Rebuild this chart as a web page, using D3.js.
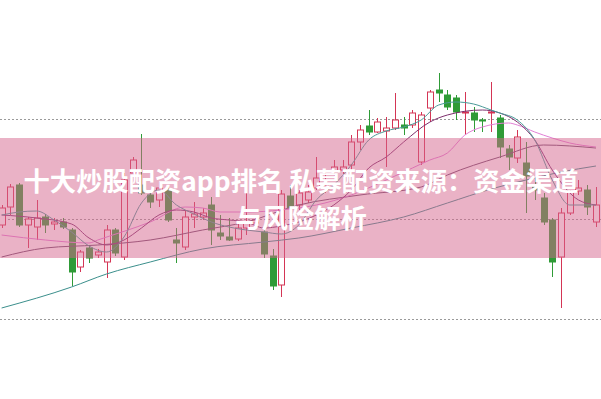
<!DOCTYPE html>
<html>
<head>
<meta charset="utf-8">
<script src="https://cdn.jsdelivr.net/npm/d3@7/dist/d3.min.js"></script>
<style>
  html, body { margin: 0; padding: 0; background: #fff; }
  svg { display: block; }
</style>
</head>
<body>
<svg id="chart" width="601" height="399"></svg>
<script>
// Daily candles: [open, high, low, close]
const candles = [
  [19.4, 21.4, 19.1, 21.1], [21.2, 23.5, 20.4, 23.2], [23.4, 23.6, 19.2, 19.4],
  [19.4, 20.2, 17.1, 20.0], [19.2, 21.9, 17.9, 20.1], [20.2, 20.5, 18.6, 19.4],
  [19.5, 20.1, 18.9, 19.7], [19.7, 20.1, 19.0, 19.2], [18.9, 19.1, 13.3, 14.7],
  [15.2, 16.9, 14.7, 16.7], [17.1, 17.4, 15.6, 16.1], [16.4, 17.0, 16.1, 16.7],
  [15.7, 19.4, 14.1, 18.9], [18.9, 19.1, 16.3, 16.6], [16.2, 24.6, 15.9, 23.9],
  [24.6, 26.2, 24.4, 25.9], [23.4, 28.5, 22.4, 22.6], [22.4, 22.7, 21.1, 21.7],
  [21.9, 23.7, 21.2, 23.1], [22.9, 23.3, 19.7, 19.9], [17.9, 19.1, 15.6, 17.6],
  [17.2, 20.9, 16.9, 20.2], [20.2, 21.7, 19.1, 20.5], [20.2, 21.1, 19.9, 20.6],
  [21.4, 22.2, 17.4, 18.9], [18.6, 20.4, 17.9, 18.3], [18.2, 20.1, 17.8, 17.9],
  [18.0, 19.6, 17.8, 19.1], [19.1, 22.9, 18.4, 19.6], [19.6, 20.4, 19.1, 19.9],
  [18.7, 19.1, 16.1, 16.5], [16.3, 17.0, 12.9, 13.3], [13.4, 22.9, 12.2, 22.5],
  [22.3, 23.4, 20.4, 21.1], [21.4, 22.9, 20.9, 22.6], [21.9, 23.4, 21.6, 22.7],
  [23.1, 26.2, 22.9, 24.1], [23.1, 24.9, 22.6, 23.4], [24.7, 25.9, 24.3, 25.2],
  [24.9, 25.9, 24.2, 25.2], [25.4, 28.4, 24.9, 27.7], [27.7, 29.4, 26.9, 28.9],
  [29.3, 30.9, 28.4, 28.7], [28.7, 30.1, 28.6, 29.7], [28.8, 30.2, 25.2, 29.1],
  [29.1, 32.6, 28.9, 29.9], [29.4, 30.2, 28.4, 29.1], [29.4, 30.9, 29.1, 30.6],
  [25.7, 30.7, 25.4, 30.4], [31.1, 32.9, 29.7, 32.7], [32.9, 34.6, 31.7, 32.6],
  [32.4, 32.9, 30.9, 31.2], [32.1, 32.4, 29.9, 30.7], [30.6, 32.7, 28.4, 30.7],
  [30.6, 31.2, 28.7, 29.9], [29.9, 30.1, 28.7, 29.8], [30.6, 33.7, 28.7, 30.7],
  [30.1, 30.4, 26.1, 27.2], [27.0, 27.4, 24.9, 26.2], [26.1, 28.9, 25.6, 28.2],
  [25.6, 27.7, 20.6, 24.3], [23.4, 24.1, 21.9, 22.9], [22.1, 22.6, 19.4, 19.7],
  [19.9, 20.1, 14.2, 15.7], [16.2, 21.1, 11.1, 20.6], [20.6, 22.9, 20.4, 22.7],
  [22.8, 23.9, 22.4, 23.1], [22.9, 23.4, 20.4, 21.2], [19.7, 23.2, 19.2, 21.4]
];

// Moving-average lines, read as [day index, value]
const ma5 = [
  [0, 20.4], [2, 20.7], [4, 20.8], [6, 19.9], [8, 18.7], [10, 17.3], [12, 16.7],
  [14, 18.2], [16, 21.6], [18, 22.9], [20, 21.4], [22, 20.5], [24, 19.7],
  [26, 19.2], [28, 18.9], [30, 18.7], [32, 18.5], [34, 19.4], [36, 21.9],
  [38, 23.4], [40, 25.4], [42, 27.9], [44, 28.8], [46, 29.2], [48, 29.9],
  [50, 31.4], [52, 31.7], [54, 31.5], [56, 30.9], [57, 30.6], [59, 29.9],
  [61, 27.9], [63, 23.9], [65, 21.4], [68, 21.4]
];
const ma10 = [
  [0, 20.4], [4, 20.1], [8, 19.5], [10, 18.1], [12, 17.4], [14, 17.9],
  [16, 19.1], [18, 20.4], [20, 20.9], [22, 20.7], [24, 20.1], [26, 19.9],
  [28, 19.7], [30, 19.1], [32, 19.3], [34, 19.7], [36, 20.4], [38, 21.4],
  [40, 22.9], [42, 25.1], [44, 26.2], [46, 27.7], [49, 29.7], [51, 30.4],
  [55, 30.9], [57, 30.6], [59, 29.7], [61, 27.9], [63, 24.9], [66, 21.9], [68, 21.4]
];
const ma20 = [
  [0, 18.4], [5, 17.9], [10, 17.6], [11, 17.9], [17, 19.7], [21, 21.2],
  [23, 21.1], [25, 20.7], [28, 20.7], [32, 20.9], [36, 21.4], [40, 22.4],
  [44, 23.9], [47, 25.1], [49, 25.9], [51, 26.6], [53, 28.4], [55, 29.2],
  [58, 29.6], [59, 29.4], [61, 28.7], [63, 28.1], [65, 27.6], [68, 27.2]
];
const ma30 = [
  [0, 16.2], [5, 17.1], [11, 17.4], [17, 17.9], [23, 18.9], [28, 19.7],
  [34, 21.4], [41, 22.4], [48, 23.2], [51, 24.4], [57, 26.2], [62, 27.4], [68, 27.1]
];
const ma60 = [
  [0, 11.1], [8, 13.2], [12, 14.5], [17, 15.7], [23, 17.0], [30, 17.7],
  [34, 18.1], [40, 19.1], [46, 20.2], [51, 21.6], [56, 23.0], [60, 23.9],
  [64, 24.7], [68, 25.3]
];

const gridTicks = [10, 20, 30];

const titleLines = ["十大炒股配资app排名 私募配资来源：资金渠道", "与风险解析"];

const W = 601, H = 399;
const svg = d3.select("#chart");

const x = d3.scaleBand()
  .domain(d3.range(candles.length))
  .range([-1.35, 598.95])
  .paddingInner(0.32);
const y = d3.scaleLinear().domain([10, 30]).range([319, 119]);
const cx = i => Math.round(x(i) + x.bandwidth() / 2) + 0.5;

// dotted grid
svg.append("g")
  .selectAll("line")
  .data(gridTicks)
  .join("line")
  .attr("x1", 0).attr("x2", W)
  .attr("y1", d => Math.round(y(d)) + 0.5)
  .attr("y2", d => Math.round(y(d)) + 0.5)
  .attr("stroke", "#9a9a9a")
  .attr("stroke-width", 1)
  .attr("stroke-dasharray", "2,2");

const UP = "#d43555", DOWN = "#2f9b37";

const g = svg.append("g");
const c = g.selectAll("g.candle")
  .data(candles)
  .join("g")
  .attr("class", "candle");

c.append("line")
  .attr("x1", (d, i) => cx(i)).attr("x2", (d, i) => cx(i))
  .attr("y1", d => y(d[1])).attr("y2", d => y(d[2]))
  .attr("stroke", d => d[3] >= d[0] ? UP : DOWN)
  .attr("stroke-width", 1);

const bw = Math.round(x.bandwidth());
c.append("rect")
  .attr("x", (d, i) => cx(i) - bw / 2)
  .attr("width", bw)
  .attr("y", d => y(Math.max(d[0], d[3])))
  .attr("height", d => Math.max(1, Math.abs(y(d[0]) - y(d[3]))))
  .attr("fill", d => d[3] >= d[0] ? "#ffffff" : DOWN)
  .attr("stroke", d => d[3] >= d[0] ? UP : DOWN)
  .attr("stroke-width", 1);

// moving averages
const line = d3.line()
  .x(d => x(d[0]) + x.bandwidth() / 2)
  .y(d => y(d[1]))
  .curve(d3.curveMonotoneX);

const series = [
  { data: ma60, color: "#3b8f8c" },
  { data: ma30, color: "#6e4a6a" },
  { data: ma20, color: "#e27fd6" },
  { data: ma10, color: "#7d2f6d" },
  { data: ma5, color: "#4a9a98" }
];
svg.append("g")
  .selectAll("path")
  .data(series)
  .join("path")
  .attr("d", d => line(d.data))
  .attr("fill", "none")
  .attr("stroke", d => d.color)
  .attr("stroke-width", 1);

// title banner
svg.append("rect")
  .attr("x", 0).attr("y", 138)
  .attr("width", W).attr("height", 120)
  .attr("fill", "rgb(214,102,142)")
  .attr("fill-opacity", 0.5);

svg.append("g")
  .selectAll("text")
  .data(titleLines)
  .join("text")
  .attr("x", 301)
  .attr("y", (d, i) => 191 + i * 37)
  .attr("text-anchor", "middle")
  .attr("fill", "#ffffff")
  .attr("font-family", "'Noto Sans CJK SC', 'Noto Sans', sans-serif")
  .attr("font-weight", "bold")
  .attr("font-size", 26.3)
  .text(d => d);
</script>
</body>
</html>
